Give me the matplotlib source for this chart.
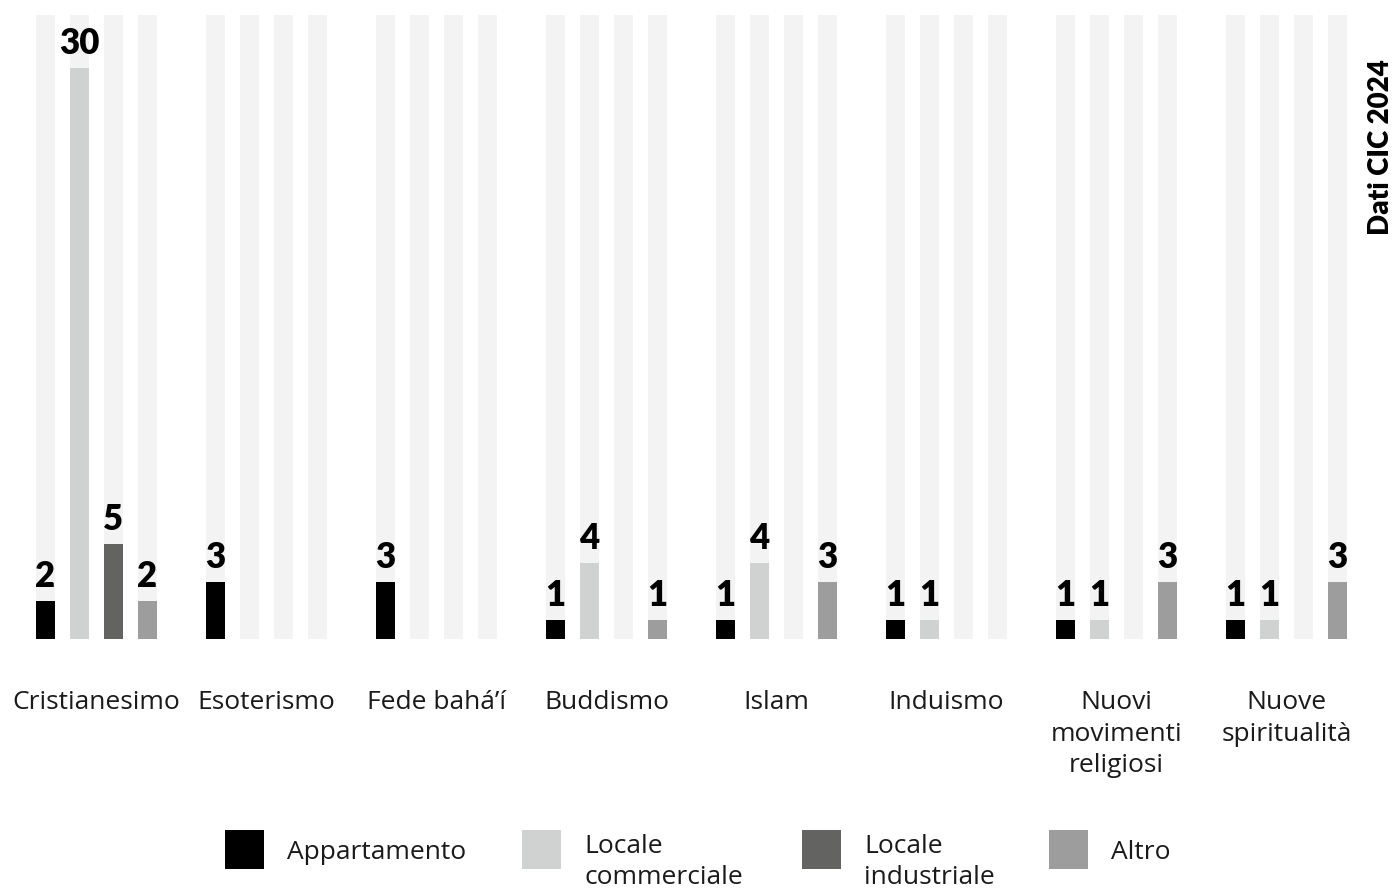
import numpy as np
import matplotlib.pyplot as plt
from matplotlib.patches import Rectangle

categorie = ["Cristianesimo", "Esoterismo", "Fede bahá’í", "Buddismo", "Islam",
             "Induismo", "Nuovi\nmovimenti\nreligiosi", "Nuove\nspiritualità"]
serie = ["Appartamento", "Locale\ncommerciale", "Locale\nindustriale", "Altro"]
appartamento = [2, 3, 3, 1, 1, 1, 1, 1]
commerciale = [30, 0, 0, 4, 4, 1, 1, 1]
industriale = [5, 0, 0, 0, 0, 0, 0, 0]
altro = [2, 0, 0, 1, 3, 0, 3, 3]
valori = [appartamento, commerciale, industriale, altro]

colori = ["#000000", "#d0d1d1", "#636362", "#9c9d9c"]
sfondo = "#f3f3f3"
ytop = 32.8

plt.rcParams['font.family'] = ['Open Sans', 'DejaVu Sans']
testo = "#1a1a1a"
fs = 19
interl = 1.33

W, H = 1393, 888
fig = plt.figure(figsize=(W / 100, H / 100), dpi=100)
ax = fig.add_axes([0, 249 / H, 1, 624 / H])

n = len(serie)
step = n + 1  # one empty slot between groups
larg = 19 / 34
base = np.arange(len(categorie)) * step

for j in range(n):
    x = base + j
    ax.bar(x, ytop, width=larg, color=sfondo, zorder=1)
    ax.bar(x, valori[j], width=larg, color=colori[j], zorder=2)
    for xi, v in zip(x, valori[j]):
        if v > 0:
            ax.annotate(str(v), (xi, v), xytext=(0, 10), textcoords="offset points",
                        ha="center", va="baseline", fontsize=25, fontweight="heavy",
                        family=["Lato", "DejaVu Sans"])

# x in units of one slot (34 px), first bar centred at 45.5 px
ax.set_xlim((0 - 45.5) / 34, (W - 45.5) / 34)
ax.set_ylim(0, ytop)
ax.set_xticks(base + (n - 1) / 2)
ax.set_xticklabels(categorie, fontsize=fs, linespacing=interl, va="top", color=testo)
ax.tick_params(axis="x", length=0, pad=37)
ax.set_yticks([])
for s in ax.spines.values():
    s.set_visible(False)

fig.text(1381 / W, 1 - 147 / H, "Dati CIC 2024", rotation=90, ha="center", va="center",
         fontsize=20, fontweight="heavy", family=["Lato", "DejaVu Sans"])

# legend row drawn in pixel coordinates
quadrati = [225, 522, 802, 1049]
lato = 39
for xq, col, lab in zip(quadrati, colori, serie):
    fig.add_artist(Rectangle((xq / W, 1 - (830 + lato) / H), lato / W, lato / H,
                             transform=fig.transFigure, color=col, lw=0))
    righe = lab.count("\n") + 1
    yt = 852 if righe == 1 else 834
    fig.text((xq + 62) / W, 1 - yt / H, lab, ha="left",
             va="center" if righe == 1 else "top", fontsize=fs,
             linespacing=interl, color=testo)

fig.savefig("out.png", dpi=100)
